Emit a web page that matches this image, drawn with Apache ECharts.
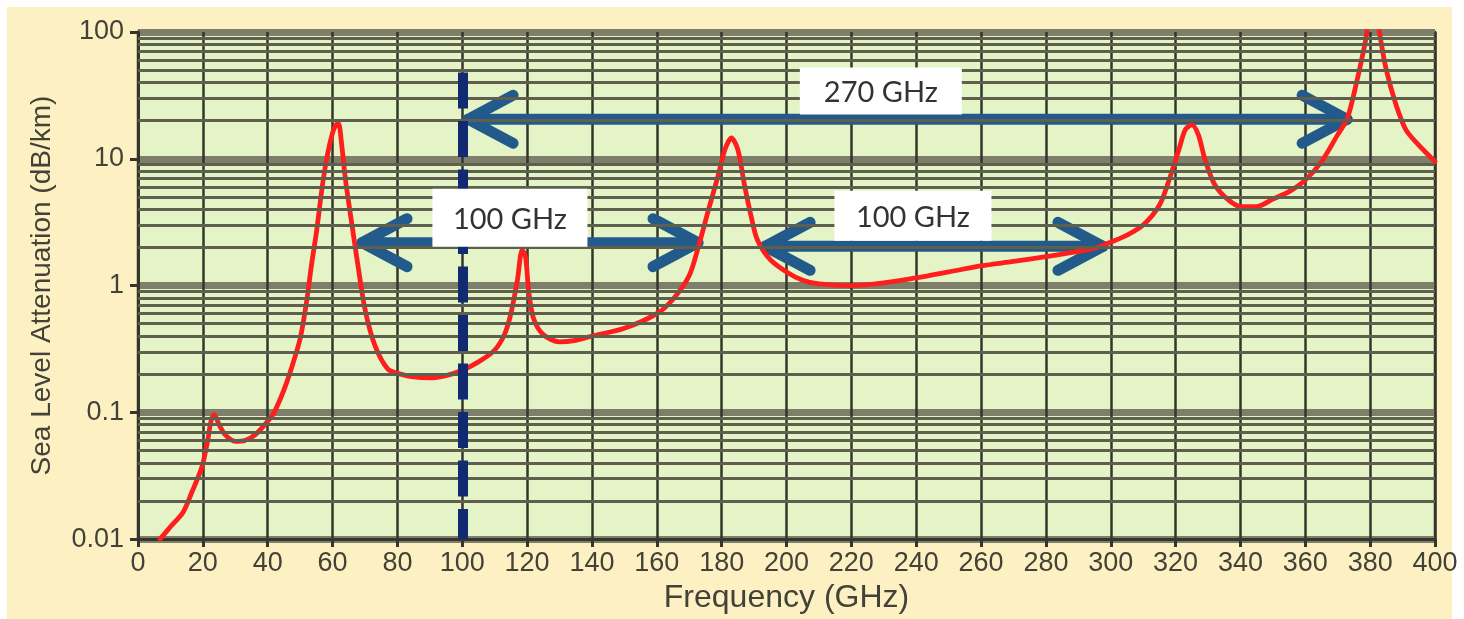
<!DOCTYPE html>
<html>
<head>
<meta charset="utf-8">
<script src="https://cdn.jsdelivr.net/npm/echarts@6/dist/echarts.min.js"></script>
<style>
html,body{margin:0;padding:0;background:#ffffff;}
#bg{position:absolute;left:7px;top:7px;width:1445px;height:612px;background:#fdf1c4;}
#c{position:absolute;left:0;top:0;width:1464px;height:619px;}
</style>
</head>
<body>
<div id="bg"></div>
<div id="c"></div>
<script>
// ---- data ----
const freqGHz = [6.8, 10, 13.9, 16.6, 19.7, 21.5, 22.5, 23.5, 25, 27, 30, 33, 36, 40, 42, 45, 47, 50, 52, 53.5, 55, 57, 58.5, 60, 61, 61.8, 62.8, 64, 66, 68, 70, 73, 77, 81, 85, 90, 95, 100, 105, 110, 113, 115, 117, 118.5, 119.5, 120.5, 122, 125, 130, 135, 140, 150, 160, 165, 170, 173, 176, 179, 181, 183, 185, 187, 189, 191, 195, 200, 205, 210, 220, 230, 240, 250, 260, 270, 280, 290, 296, 300, 305, 310, 315, 318, 321, 323, 325, 327, 329, 332, 336, 340, 345, 350, 355, 360, 365, 370, 373, 376, 378, 379, 380.5, 382, 383, 385, 388, 391, 395, 400];
const attenuationDbKm = [0.01, 0.0125, 0.0163, 0.0234, 0.037, 0.06, 0.085, 0.096, 0.08, 0.066, 0.059, 0.06, 0.066, 0.085, 0.1, 0.15, 0.21, 0.38, 0.75, 1.45, 2.6, 6.5, 11, 16, 18.5, 19, 13, 6.8, 3, 1.35, 0.65, 0.34, 0.22, 0.2, 0.19, 0.187, 0.195, 0.215, 0.25, 0.31, 0.41, 0.6, 1.1, 1.9, 1.7, 0.9, 0.55, 0.41, 0.36, 0.37, 0.4, 0.46, 0.6, 0.78, 1.2, 2.1, 4, 7.5, 11.8, 14.6, 11.8, 6.3, 3.6, 2.3, 1.6, 1.28, 1.1, 1.03, 1.0, 1.05, 1.15, 1.28, 1.43, 1.55, 1.69, 1.86, 2.0, 2.2, 2.5, 3.0, 4.3, 6.8, 11.8, 17, 18.5, 15.5, 10, 6.3, 4.8, 4.2, 4.2, 4.8, 5.5, 6.8, 9.5, 15.5, 21, 42, 72, 100, 250, 150, 95, 50, 26.6, 17, 12.8, 9.5];

const xTickValues = [0, 20, 40, 60, 80, 100, 120, 140, 160, 180, 200, 220, 240, 260, 280, 300, 320, 340, 360, 380, 400];
const yTickLabels = ['0.01', '0.1', '1', '10', '100'];

// dashed marker line at 100 GHz (x value, top value, bottom value)
const markerFreq = 100;
const markerTop = 48;
const markerBottom = 0.01;

// double-headed arrows: start GHz, end GHz, level (dB/km)
const arrowStartGHz = [101.8, 69.1, 193.4];
const arrowEndGHz   = [372.9, 172.7, 297.6];
const arrowLevel    = [20.5, 2.18, 2.04];

// annotation labels: text and centre (GHz, dB/km)
const labelTexts = ['270 GHz', '100 GHz', '100 GHz'];
const labelGHz   = [229.1, 114.7, 239.0];
const labelLevel = [34.3, 3.43, 3.56];

// minor log grid values (2..9 in each decade)
const minorGridValues = [];
for (let d = -2; d <= 1; d++) {
  for (let k = 2; k <= 9; k++) minorGridValues.push(Number((k * Math.pow(10, d)).toPrecision(3)));
}

// ---- styles ----
const labelBoxSize = [[162, 47], [155, 58], [157, 50]];
const gridDark = '#34352b';
const arrowColor = '#225a8c';
const tickFont = 'Liberation Sans';
const textColor = '#424238';

const chart = echarts.init(document.getElementById('c'), null, {renderer: 'canvas'});

const curveData = freqGHz.map((f, i) => [f, attenuationDbKm[i]]);
const arrowData = arrowStartGHz.map((s, i) => [s, arrowEndGHz[i], arrowLevel[i]]);
const labelData = labelTexts.map((t, i) => [labelGHz[i], labelLevel[i], i]);

const option = {
  backgroundColor: 'transparent',
  animation: false,
  grid: {
    left: 138, right: 29, top: 32, bottom: 79,
    show: true, backgroundColor: '#e4f4c6', borderColor: gridDark, borderWidth: 2.5
  },
  xAxis: {
    type: 'value', min: 0, max: 400, interval: 20,
    name: 'Frequency (GHz)', nameLocation: 'middle', nameGap: 40,
    nameTextStyle: {fontFamily: tickFont, fontSize: 32, color: textColor},
    axisLine: {show: true, lineStyle: {color: gridDark, width: 3}},
    axisTick: {show: true, length: 8, lineStyle: {color: gridDark, width: 3}},
    axisLabel: {margin: 11, fontFamily: tickFont, fontSize: 27, color: textColor,
      formatter: v => String(v)},
    splitLine: {show: true, lineStyle: {color: gridDark, width: 2.5}}
  },
  yAxis: {
    type: 'log', logBase: 10, min: 0.01, max: 100,
    name: 'Sea Level Attenuation (dB/km)', nameLocation: 'middle', nameGap: 82,
    nameTextStyle: {fontFamily: tickFont, fontSize: 28, color: textColor},
    axisLine: {show: true, lineStyle: {color: gridDark, width: 3}},
    axisTick: {show: true, length: 8, lineStyle: {color: gridDark, width: 3}},
    axisLabel: {margin: 14, fontFamily: tickFont, fontSize: 27, color: textColor,
      formatter: v => yTickLabels[Math.round(Math.log10(v)) + 2] || ''},
    splitLine: {show: true, lineStyle: {color: '#7d7f6b', width: 7}}
  },
  series: [
    {
      name: 'grid', type: 'line', data: [], silent: true, z: 1,
      markLine: {
        silent: true, symbol: 'none', label: {show: false},
        lineStyle: {color: '#5e604d', width: 3, type: 'solid'},
        data: minorGridValues.map(v => ({yAxis: v}))
      }
    },
    {
      name: 'marker', type: 'line', data: [], silent: true, z: 2,
      markLine: {
        silent: true, symbol: 'none', label: {show: false},
        lineStyle: {color: '#112a72', width: 10, type: [36, 12.5], cap: 'butt'},
        data: [[{coord: [markerFreq, markerTop]}, {coord: [markerFreq, markerBottom]}]]
      }
    },
    {
      name: 'arrows', type: 'custom', z: 3, silent: true, clip: false,
      data: arrowData,
      encode: {x: [0, 1], y: 2},
      renderItem: function (params, api) {
        const lv = api.value(2);
        const p1 = api.coord([api.value(0), lv]);
        const p2 = api.coord([api.value(1), lv]);
        const st = {stroke: arrowColor, lineWidth: 11, lineCap: 'round', lineJoin: 'round', fill: 'none'};
        const L = 45, W = 24;
        return {
          type: 'group',
          children: [
            {type: 'line', shape: {x1: p1[0], y1: p1[1], x2: p2[0], y2: p2[1]}, style: st},
            {type: 'polyline', shape: {points: [[p1[0] + L, p1[1] - W], [p1[0], p1[1]], [p1[0] + L, p1[1] + W]]}, style: st},
            {type: 'polyline', shape: {points: [[p2[0] - L, p2[1] - W], [p2[0], p2[1]], [p2[0] - L, p2[1] + W]]}, style: st}
          ]
        };
      }
    },
    {
      name: 'Attenuation', type: 'line', z: 4, data: curveData,
      showSymbol: false, smooth: 0.3, clip: true,
      lineStyle: {color: '#ff1e1e', width: 4.8, join: 'round', cap: 'round'}
    },
    {
      name: 'labels', type: 'custom', z: 5, silent: true, clip: false,
      data: labelData,
      encode: {x: 0, y: 1},
      renderItem: function (params, api) {
        const idx = api.value(2);
        const p = api.coord([api.value(0), api.value(1)]);
        const sz = labelBoxSize[idx];
        return {
          type: 'group',
          children: [
            {type: 'rect', shape: {x: p[0] - sz[0] / 2, y: p[1] - sz[1] / 2, width: sz[0], height: sz[1]},
              style: {fill: '#ffffff', stroke: 'none'}},
            {type: 'text', x: p[0], y: p[1] + 2,
              style: {text: labelTexts[idx], fill: '#333333', fontFamily: 'Lato', fontSize: 29,
                align: 'center', verticalAlign: 'middle'}}
          ]
        };
      }
    }
  ]
};
chart.setOption(option);
</script>
</body>
</html>
